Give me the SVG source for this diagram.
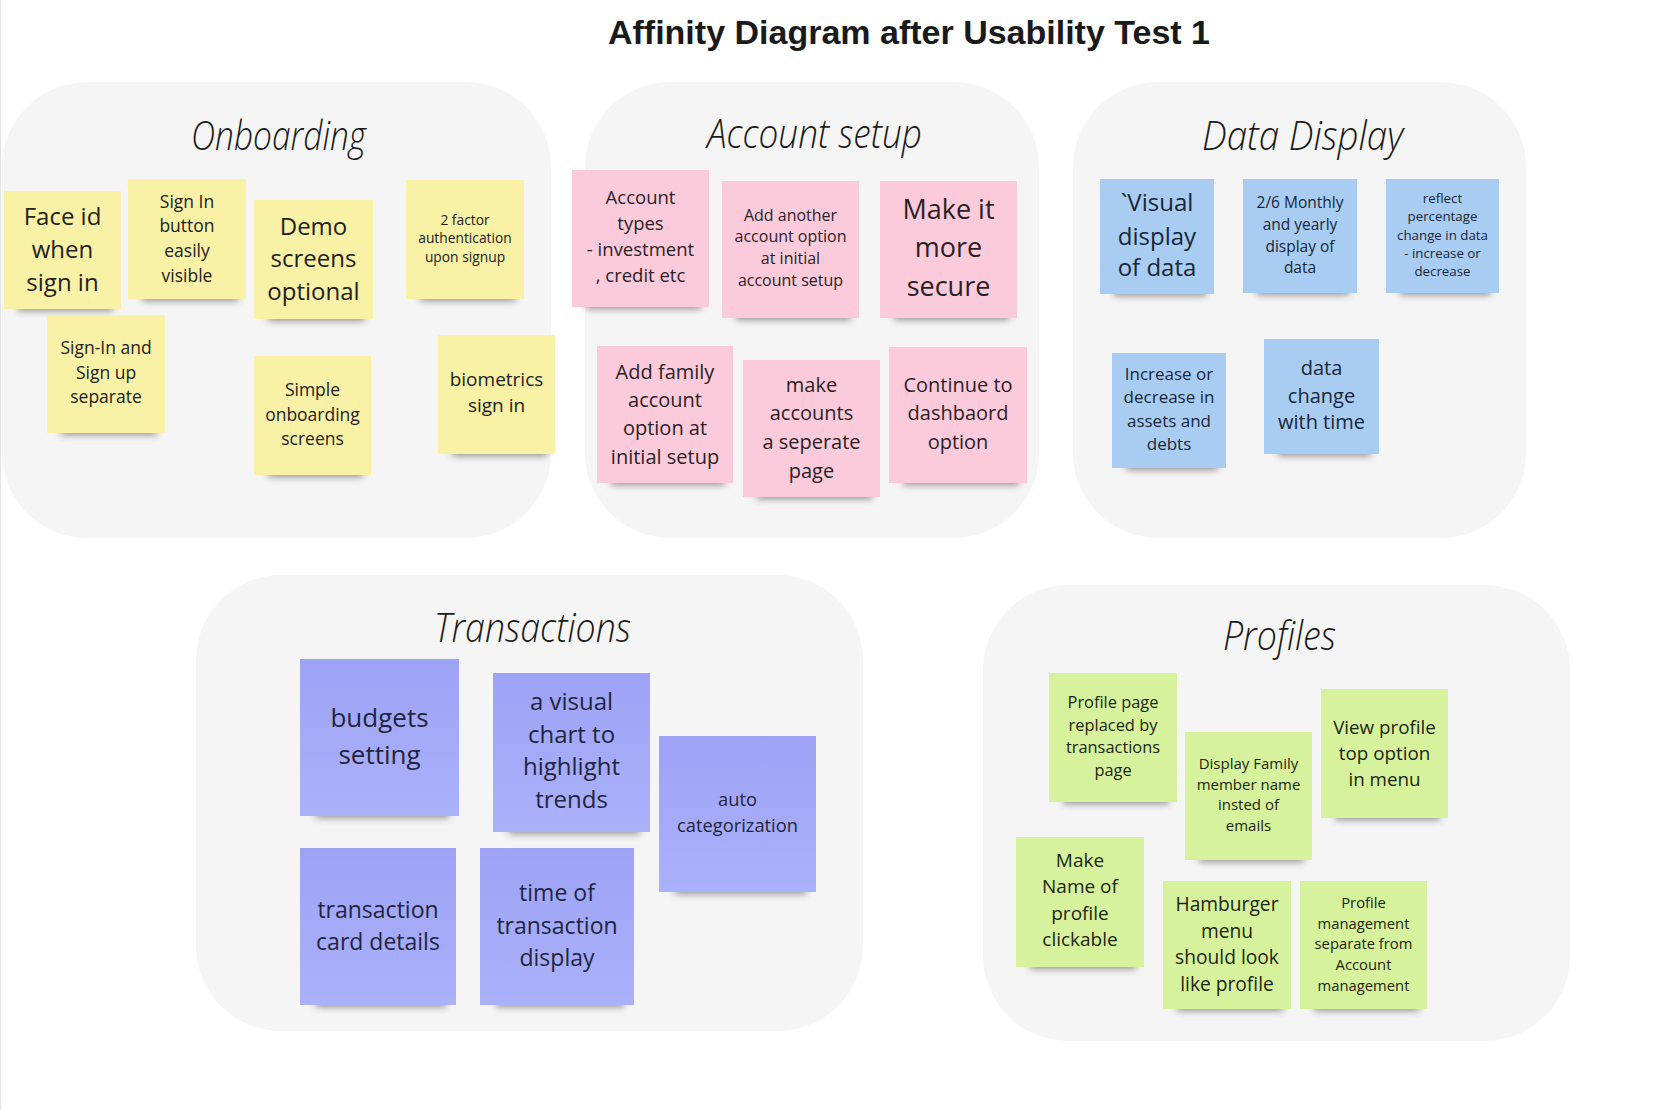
<svg xmlns="http://www.w3.org/2000/svg" width="1679" height="1110" viewBox="0 0 1679 1110">
<defs>
<filter id="blur" x="-20%" y="-100%" width="140%" height="300%"><feGaussianBlur stdDeviation="3.5"/></filter>
<linearGradient id="purp" x1="0" y1="0" x2="0" y2="1"><stop offset="0" stop-color="#9da2f5"/><stop offset="1" stop-color="#abb1fb"/></linearGradient>
<style>
.group{fill:#f5f5f5}
.gt{font-family:"Open Sans","Lato","Noto Sans",sans-serif;font-style:italic;font-weight:300;font-size:40px;fill:#1b1b1b}
.sh{fill:#333;opacity:.5;filter:url(#blur)}
.y{fill:#f9f1a6}
.p{fill:#fbcadb}
.b{fill:#a9cdf2}
.v{fill:url(#purp)}
.g{fill:#d6f29c}
.t{font-family:"Open Sans","Noto Sans",sans-serif;text-anchor:middle}
.ty{fill:#222}
.tp{fill:#2b1f25}
.tb{fill:#182638}
.tv{fill:#22253f}
.tg{fill:#1d2612}
</style>
</defs>
<rect width="1679" height="1110" fill="#fff"/>
<line x1="0.5" y1="0" x2="0.5" y2="1110" stroke="#e4e4e4" stroke-width="1"/>
<text x="909" y="44" text-anchor="middle" font-family="Liberation Sans, Arial, sans-serif" font-weight="bold" font-size="34" fill="#1a1a1a">Affinity Diagram after Usability Test 1</text>

<g id="group-onboarding">
<rect class="group" x="2" y="82" width="549" height="456" rx="85"/>
<text class="gt" x="191" y="150" textLength="175" lengthAdjust="spacingAndGlyphs">Onboarding</text>
</g>
<g id="group-account-setup">
<rect class="group" x="585" y="82" width="454" height="456" rx="85"/>
<text class="gt" x="707" y="148" textLength="215" lengthAdjust="spacingAndGlyphs">Account setup</text>
</g>
<g id="group-data-display">
<rect class="group" x="1073" y="82" width="453" height="456" rx="85"/>
<text class="gt" x="1202" y="150" textLength="201" lengthAdjust="spacingAndGlyphs">Data Display</text>
</g>
<g id="group-transactions">
<rect class="group" x="196" y="575" width="667" height="456" rx="85"/>
<text class="gt" x="434" y="642" textLength="197" lengthAdjust="spacingAndGlyphs">Transactions</text>
</g>
<g id="group-profiles">
<rect class="group" x="983" y="585" width="587" height="456" rx="85"/>
<text class="gt" x="1223" y="650" textLength="113" lengthAdjust="spacingAndGlyphs">Profiles</text>
</g>

<g id="connectors"/>

<!-- Onboarding -->
<g id="note-face-id">
<rect class="sh" x="18" y="299" width="95" height="12"/>
<rect class="y" x="4" y="191" width="117" height="118"/>
<text class="t ty" font-size="24"><tspan x="62.5" y="225">Face id</tspan><tspan x="62.5" y="258">when</tspan><tspan x="62.5" y="291">sign in</tspan></text>
</g>
<g id="note-sign-in-button">
<rect class="sh" x="142" y="289" width="96" height="12"/>
<rect class="y" x="128" y="179" width="118" height="120"/>
<text class="t ty" font-size="17.5"><tspan x="187" y="208">Sign In</tspan><tspan x="187" y="232">button</tspan><tspan x="187" y="257">easily</tspan><tspan x="187" y="282">visible</tspan></text>
</g>
<g id="note-demo-screens">
<rect class="sh" x="268" y="309" width="97" height="12"/>
<rect class="y" x="254" y="200" width="119" height="119"/>
<text class="t ty" font-size="24"><tspan x="313.5" y="235">Demo</tspan><tspan x="313.5" y="267">screens</tspan><tspan x="313.5" y="300">optional</tspan></text>
</g>
<g id="note-2-factor">
<rect class="sh" x="420" y="289" width="96" height="12"/>
<rect class="y" x="406" y="180" width="118" height="119"/>
<text class="t ty" font-size="13.8"><tspan x="465" y="225">2 factor</tspan><tspan x="465" y="243">authentication</tspan><tspan x="465" y="262">upon signup</tspan></text>
</g>
<g id="note-sign-in-sign-up">
<rect class="sh" x="61" y="423" width="96" height="12"/>
<rect class="y" x="47" y="315" width="118" height="118"/>
<text class="t ty" font-size="17.5"><tspan x="106" y="354">Sign-In and</tspan><tspan x="106" y="379">Sign up</tspan><tspan x="106" y="403">separate</tspan></text>
</g>
<g id="note-simple-onboarding">
<rect class="sh" x="268" y="465" width="95" height="12"/>
<rect class="y" x="254" y="356" width="117" height="119"/>
<text class="t ty" font-size="17.5"><tspan x="312.5" y="396">Simple</tspan><tspan x="312.5" y="421">onboarding</tspan><tspan x="312.5" y="445">screens</tspan></text>
</g>
<g id="note-biometrics">
<rect class="sh" x="452" y="444" width="95" height="12"/>
<rect class="y" x="438" y="335" width="117" height="119"/>
<text class="t ty" font-size="19"><tspan x="496.5" y="386">biometrics</tspan><tspan x="496.5" y="412">sign in</tspan></text>
</g>

<!-- Account setup -->
<g id="note-account-types">
<rect class="sh" x="586" y="297" width="115" height="12"/>
<rect class="p" x="572" y="170" width="137" height="137"/>
<text class="t tp" font-size="18.5"><tspan x="640.5" y="204">Account</tspan><tspan x="640.5" y="230">types</tspan><tspan x="640.5" y="256">- investment</tspan><tspan x="640.5" y="282">, credit etc</tspan></text>
</g>
<g id="note-add-another-account">
<rect class="sh" x="736" y="308" width="115" height="12"/>
<rect class="p" x="722" y="181" width="137" height="137"/>
<text class="t tp" font-size="16"><tspan x="790.5" y="221">Add another</tspan><tspan x="790.5" y="242">account option</tspan><tspan x="790.5" y="264">at initial</tspan><tspan x="790.5" y="286">account setup</tspan></text>
</g>
<g id="note-more-secure">
<rect class="sh" x="894" y="308" width="115" height="12"/>
<rect class="p" x="880" y="181" width="137" height="137"/>
<text class="t tp" font-size="27"><tspan x="948.5" y="219">Make it</tspan><tspan x="948.5" y="257">more</tspan><tspan x="948.5" y="296">secure</tspan></text>
</g>
<g id="note-add-family-account">
<rect class="sh" x="611" y="473" width="114" height="12"/>
<rect class="p" x="597" y="346" width="136" height="137"/>
<text class="t tp" font-size="20"><tspan x="665" y="379">Add family</tspan><tspan x="665" y="407">account</tspan><tspan x="665" y="435">option at</tspan><tspan x="665" y="464">initial setup</tspan></text>
</g>
<g id="note-accounts-separate-page">
<rect class="sh" x="757" y="487" width="115" height="12"/>
<rect class="p" x="743" y="360" width="137" height="137"/>
<text class="t tp" font-size="20"><tspan x="811.5" y="392">make</tspan><tspan x="811.5" y="420">accounts</tspan><tspan x="811.5" y="449">a seperate</tspan><tspan x="811.5" y="478">page</tspan></text>
</g>
<g id="note-continue-dashboard">
<rect class="sh" x="903" y="473" width="116" height="12"/>
<rect class="p" x="889" y="347" width="138" height="136"/>
<text class="t tp" font-size="20"><tspan x="958" y="392">Continue to</tspan><tspan x="958" y="420">dashbaord</tspan><tspan x="958" y="449">option</tspan></text>
</g>

<!-- Data Display -->
<g id="note-visual-display">
<rect class="sh" x="1114" y="284" width="92" height="12"/>
<rect class="b" x="1100" y="179" width="114" height="115"/>
<text class="t tb" font-size="24"><tspan x="1157" y="211">`Visual</tspan><tspan x="1157" y="245">display</tspan><tspan x="1157" y="276">of data</tspan></text>
</g>
<g id="note-monthly-yearly">
<rect class="sh" x="1257" y="283" width="92" height="12"/>
<rect class="b" x="1243" y="179" width="114" height="114"/>
<text class="t tb" font-size="15.5"><tspan x="1300" y="208">2/6 Monthly</tspan><tspan x="1300" y="230">and yearly</tspan><tspan x="1300" y="252">display of</tspan><tspan x="1300" y="273">data</tspan></text>
</g>
<g id="note-percentage-change">
<rect class="sh" x="1400" y="283" width="91" height="12"/>
<rect class="b" x="1386" y="179" width="113" height="114"/>
<text class="t tb" font-size="13.3"><tspan x="1442.5" y="203">reflect</tspan><tspan x="1442.5" y="221">percentage</tspan><tspan x="1442.5" y="240">change in data</tspan><tspan x="1442.5" y="258">- increase or</tspan><tspan x="1442.5" y="276">decrease</tspan></text>
</g>
<g id="note-assets-debts">
<rect class="sh" x="1126" y="458" width="92" height="12"/>
<rect class="b" x="1112" y="353" width="114" height="115"/>
<text class="t tb" font-size="17"><tspan x="1169" y="380">Increase or</tspan><tspan x="1169" y="403">decrease in</tspan><tspan x="1169" y="427">assets and</tspan><tspan x="1169" y="450">debts</tspan></text>
</g>
<g id="note-data-change-time">
<rect class="sh" x="1278" y="444" width="93" height="12"/>
<rect class="b" x="1264" y="339" width="115" height="115"/>
<text class="t tb" font-size="20"><tspan x="1321.5" y="375">data</tspan><tspan x="1321.5" y="403">change</tspan><tspan x="1321.5" y="429">with time</tspan></text>
</g>

<!-- Transactions -->
<g id="note-budgets-setting">
<rect class="sh" x="316" y="805" width="133" height="13"/>
<rect class="v" x="300" y="659" width="159" height="157"/>
<text class="t tv" font-size="26"><tspan x="379.5" y="727">budgets</tspan><tspan x="379.5" y="764">setting</tspan></text>
</g>
<g id="note-visual-chart">
<rect class="sh" x="509" y="821" width="131" height="13"/>
<rect class="v" x="493" y="673" width="157" height="159"/>
<text class="t tv" font-size="24"><tspan x="571.5" y="710">a visual</tspan><tspan x="571.5" y="743">chart to</tspan><tspan x="571.5" y="775">highlight</tspan><tspan x="571.5" y="808">trends</tspan></text>
</g>
<g id="note-auto-categorization">
<rect class="sh" x="675" y="881" width="131" height="13"/>
<rect class="v" x="659" y="736" width="157" height="156"/>
<text class="t tv" font-size="18.3"><tspan x="737.5" y="806">auto</tspan><tspan x="737.5" y="832">categorization</tspan></text>
</g>
<g id="note-transaction-card">
<rect class="sh" x="316" y="994" width="130" height="13"/>
<rect class="v" x="300" y="848" width="156" height="157"/>
<text class="t tv" font-size="23"><tspan x="378" y="918">transaction</tspan><tspan x="378" y="950">card details</tspan></text>
</g>
<g id="note-time-of-transaction">
<rect class="sh" x="496" y="994" width="128" height="13"/>
<rect class="v" x="480" y="848" width="154" height="157"/>
<text class="t tv" font-size="23"><tspan x="557" y="901">time of</tspan><tspan x="557" y="934">transaction</tspan><tspan x="557" y="966">display</tspan></text>
</g>

<!-- Profiles -->
<g id="note-profile-page-replaced">
<rect class="sh" x="1063" y="792" width="106" height="12"/>
<rect class="g" x="1049" y="673" width="128" height="129"/>
<text class="t tg" font-size="16.4"><tspan x="1113" y="708">Profile page</tspan><tspan x="1113" y="731">replaced by</tspan><tspan x="1113" y="753">transactions</tspan><tspan x="1113" y="776">page</tspan></text>
</g>
<g id="note-display-family-name">
<rect class="sh" x="1199" y="850" width="105" height="12"/>
<rect class="g" x="1185" y="732" width="127" height="128"/>
<text class="t tg" font-size="15"><tspan x="1248.5" y="769">Display Family</tspan><tspan x="1248.5" y="790">member name</tspan><tspan x="1248.5" y="810">insted of</tspan><tspan x="1248.5" y="831">emails</tspan></text>
</g>
<g id="note-view-profile">
<rect class="sh" x="1335" y="808" width="105" height="12"/>
<rect class="g" x="1321" y="689" width="127" height="129"/>
<text class="t tg" font-size="18.8"><tspan x="1384.5" y="734">View profile</tspan><tspan x="1384.5" y="760">top option</tspan><tspan x="1384.5" y="786">in menu</tspan></text>
</g>
<g id="note-name-clickable">
<rect class="sh" x="1030" y="957" width="106" height="12"/>
<rect class="g" x="1016" y="837" width="128" height="130"/>
<text class="t tg" font-size="19"><tspan x="1080" y="867">Make</tspan><tspan x="1080" y="893">Name of</tspan><tspan x="1080" y="920">profile</tspan><tspan x="1080" y="946">clickable</tspan></text>
</g>
<g id="note-hamburger-menu">
<rect class="sh" x="1177" y="999" width="106" height="12"/>
<rect class="g" x="1163" y="881" width="128" height="128"/>
<text class="t tg" font-size="19.2"><tspan x="1227" y="911">Hamburger</tspan><tspan x="1227" y="938">menu</tspan><tspan x="1227" y="964">should look</tspan><tspan x="1227" y="991">like profile</tspan></text>
</g>
<g id="note-profile-management">
<rect class="sh" x="1314" y="999" width="105" height="12"/>
<rect class="g" x="1300" y="881" width="127" height="128"/>
<text class="t tg" font-size="14.8"><tspan x="1363.5" y="908">Profile</tspan><tspan x="1363.5" y="929">management</tspan><tspan x="1363.5" y="949">separate from</tspan><tspan x="1363.5" y="970">Account</tspan><tspan x="1363.5" y="991">management</tspan></text>
</g>
</svg>
